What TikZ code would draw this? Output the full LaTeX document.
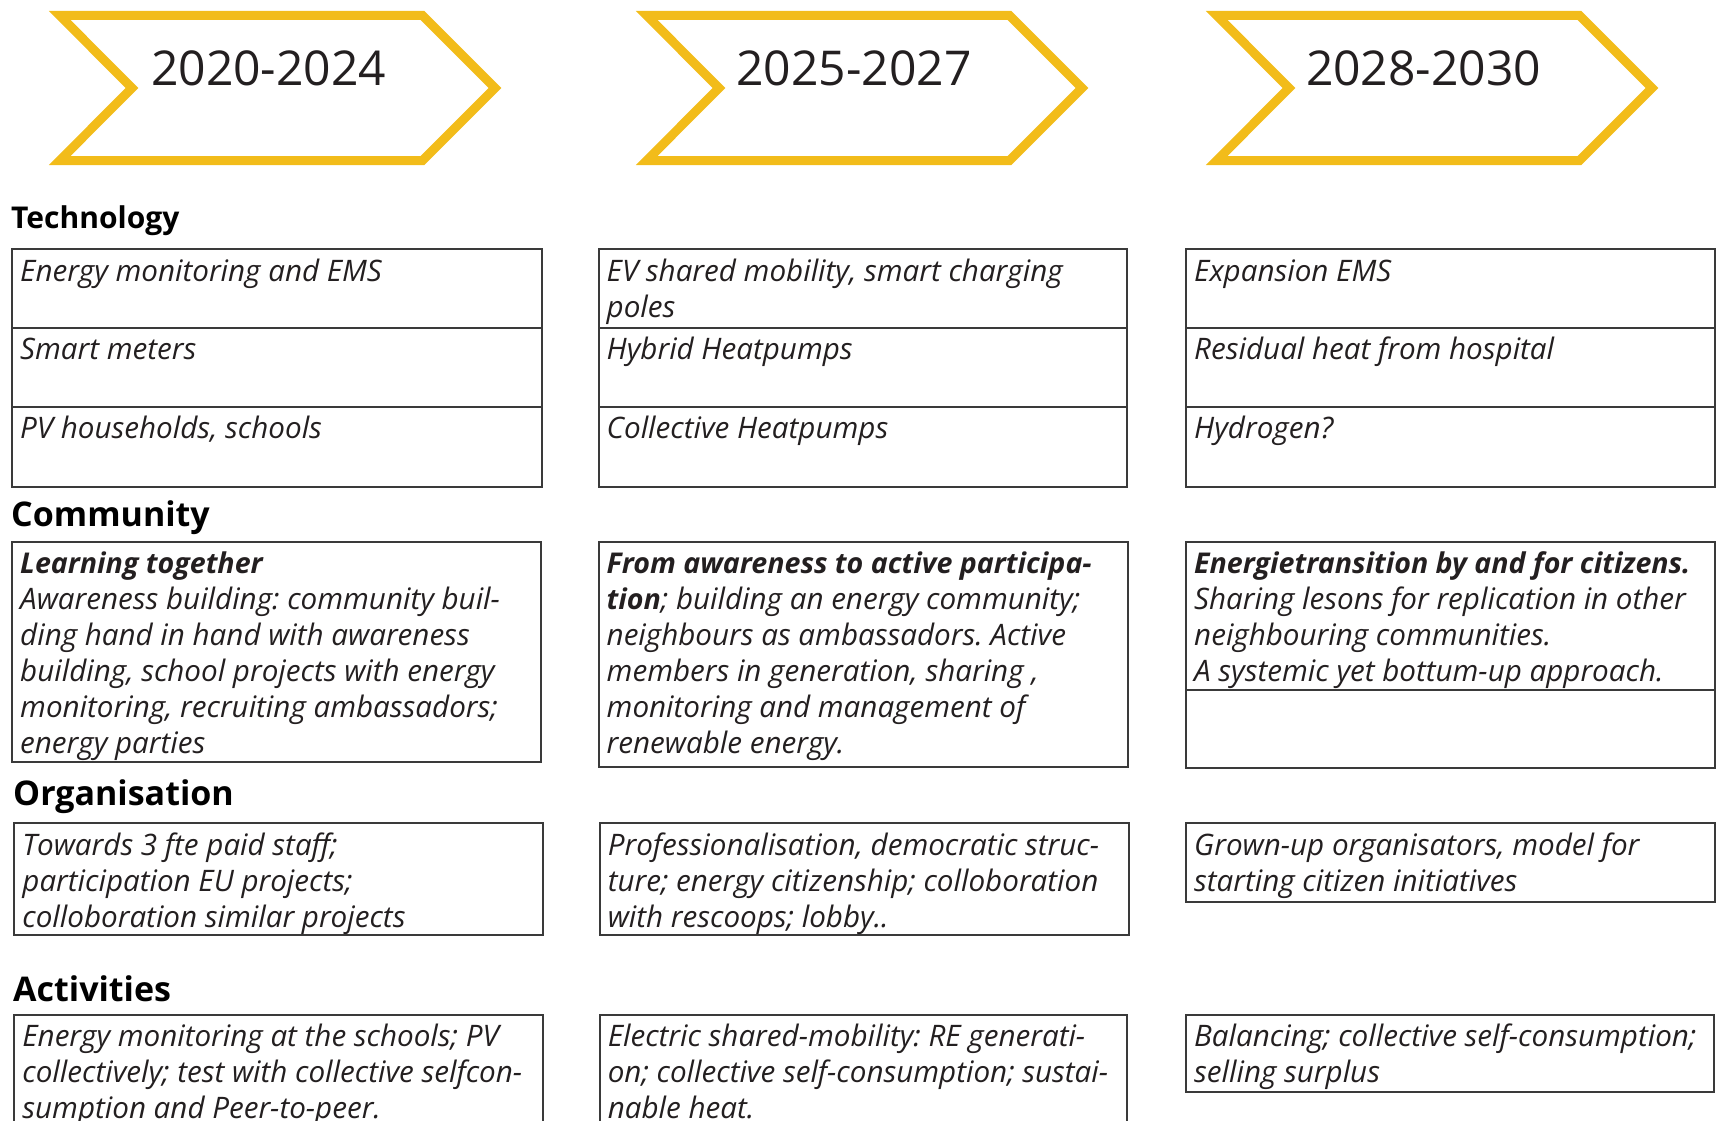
\documentclass[tikz,border=0pt]{standalone}
\usepackage{fontspec}
\setmainfont{Open Sans}
\definecolor{chev}{HTML}{F2BC1A}
\definecolor{boxc}{HTML}{3A3A3A}
\definecolor{txtc}{HTML}{231F20}
\newcommand\cstrut{\rule{0pt}{27pt}}
\newcommand\bt[1]{{\fontsize{28.6}{36}\selectfont\bfseries #1}}
\frenchspacing
\begin{document}
\begin{tikzpicture}[x=1pt,y=-1pt,
  chevron/.style={draw=chev, line width=9pt, line join=miter},
  yeartxt/.style={font=\fontsize{48}{56}\selectfont, text=txtc, inner sep=0pt, anchor=base},
  hdr/.style={font=\bfseries\fontsize{#1}{#1}\selectfont, text=black, inner sep=0pt, anchor=base west},
  cell/.style={draw=boxc, line width=2pt, rectangle, inner sep=0pt, anchor=north west},
  txt/.style={font=\fontsize{29.6}{36}\selectfont\itshape, text=txtc, inner sep=0pt, align=left, anchor=north west}]
\newcommand\cellbox[5]{\node[cell, minimum width={#4pt-#2pt}, minimum height={#5pt-#3pt}] (#1) at (#2,#3) {};}
\useasboundingbox (0,0) rectangle (1719,1121);
\clip (0,0) rectangle (1719,1121);
% chevrons
\foreach \dx/\nm in {0/c1,587/c2,1157/c3}{
  \draw[chevron] (59.6+\dx,15.4) -- (422.4+\dx,15.4) -- (495+\dx,88) -- (422.4+\dx,160.6) -- (59.6+\dx,160.6) -- (132+\dx,88) -- cycle;
}
\node[yeartxt] (y1) at (268.6,86) {2020-2024};
\node[yeartxt] (y2) at (854,86) {2025-2027};
\node[yeartxt] (y3) at (1423.5,86) {2028-2030};
% headers
\node[hdr=30] (hT) at (11,228) {Technology};
\node[hdr=34] (hC) at (11,526) {Community};
\node[hdr=34] (hO) at (13,805) {Organisation};
\node[hdr=34] (hA) at (13,1001) {Activities};
% technology
\cellbox{t11}{11}{247.8}{540.5}{326.7}
\cellbox{t12}{11}{326.7}{540.5}{405.6}
\cellbox{t13}{11}{405.6}{540.5}{485.7}
\cellbox{t21}{597.5}{247.8}{1126}{326.7}
\cellbox{t22}{597.5}{326.7}{1126}{405.6}
\cellbox{t23}{597.5}{405.6}{1126}{485.7}
\cellbox{t31}{1185}{247.8}{1713.5}{326.7}
\cellbox{t32}{1185}{326.7}{1713.5}{405.6}
\cellbox{t33}{1185}{405.6}{1713.5}{485.7}
\node[txt] (t11x) at ([shift={(9,6)}]t11.north west) {\cstrut Energy monitoring and EMS};
\node[txt] (t12x) at ([shift={(9,6)}]t12.north west) {\cstrut Smart meters};
\node[txt] (t13x) at ([shift={(9,6)}]t13.north west) {\cstrut PV households, schools};
\node[txt] (t21x) at ([shift={(9,6)}]t21.north west) {\cstrut EV shared mobility, smart charging\\poles};
\node[txt] (t22x) at ([shift={(9,6)}]t22.north west) {\cstrut Hybrid Heatpumps};
\node[txt] (t23x) at ([shift={(9,6)}]t23.north west) {\cstrut Collective Heatpumps};
\node[txt] (t31x) at ([shift={(9,6)}]t31.north west) {\cstrut Expansion EMS};
\node[txt] (t32x) at ([shift={(9,6)}]t32.north west) {\cstrut Residual heat from hospital};
\node[txt] (t33x) at ([shift={(9,6)}]t33.north west) {\cstrut Hydrogen?};
% community
\cellbox{c1b}{11}{540.5}{539.5}{760.8}
\cellbox{c2b}{597.5}{540.5}{1127}{766.3}
\cellbox{c3b}{1185}{540.5}{1713.5}{688.5}
\cellbox{c3e}{1185}{688.5}{1713.5}{767.4}
\node[txt] (c1x) at ([shift={(9,6)}]c1b.north west) {\cstrut\bt{Learning together}\\Awareness building: community buil-\\ding hand in hand with awareness\\building, school projects with energy\\monitoring, recruiting ambassadors;\\energy parties};
\node[txt] (c2x) at ([shift={(9,6)}]c2b.north west) {\cstrut\bt{From awareness to active participa-}\\\bt{tion}; building an energy community;\\neighbours as ambassadors. Active\\members in generation, sharing ,\\monitoring and management of\\renewable energy.};
\node[txt] (c3x) at ([shift={(9,6)}]c3b.north west) {\cstrut\bt{Energietransition by and for citizens.}\\Sharing lesons for replication in other\\neighbouring communities.\\A systemic yet bottum-up approach.};
% organisation
\cellbox{o1b}{13.2}{822.2}{541.6}{934}
\cellbox{o2b}{598.6}{822.2}{1128}{934}
\cellbox{o3b}{1185}{822.2}{1713.5}{901.2}
\node[txt] (o1x) at ([shift={(9,6)}]o1b.north west) {\cstrut Towards 3 fte paid staff;\\participation EU projects;\\colloboration similar projects};
\node[txt] (o2x) at ([shift={(9,6)}]o2b.north west) {\cstrut Professionalisation, democratic struc-\\ture; energy citizenship; colloboration\\with rescoops; lobby..};
\node[txt] (o3x) at ([shift={(9,6)}]o3b.north west) {\cstrut Grown-up organisators, model for\\starting citizen initiatives};
% activities
\cellbox{a1b}{13.2}{1014}{541.6}{1135}
\cellbox{a2b}{598.6}{1014}{1126}{1135}
\cellbox{a3b}{1185}{1014}{1712.5}{1090.8}
\node[txt] (a1x) at ([shift={(9,5)}]a1b.north west) {\cstrut Energy monitoring at the schools; PV\\collectively; test with collective selfcon-\\sumption and Peer-to-peer.};
\node[txt] (a2x) at ([shift={(9,5)}]a2b.north west) {\cstrut Electric shared-mobility: RE generati-\\on; collective self-consumption; sustai-\\nable heat.};
\node[txt] (a3x) at ([shift={(9,5)}]a3b.north west) {\cstrut Balancing; collective self-consumption;\\selling surplus};
\end{tikzpicture}
\end{document}
